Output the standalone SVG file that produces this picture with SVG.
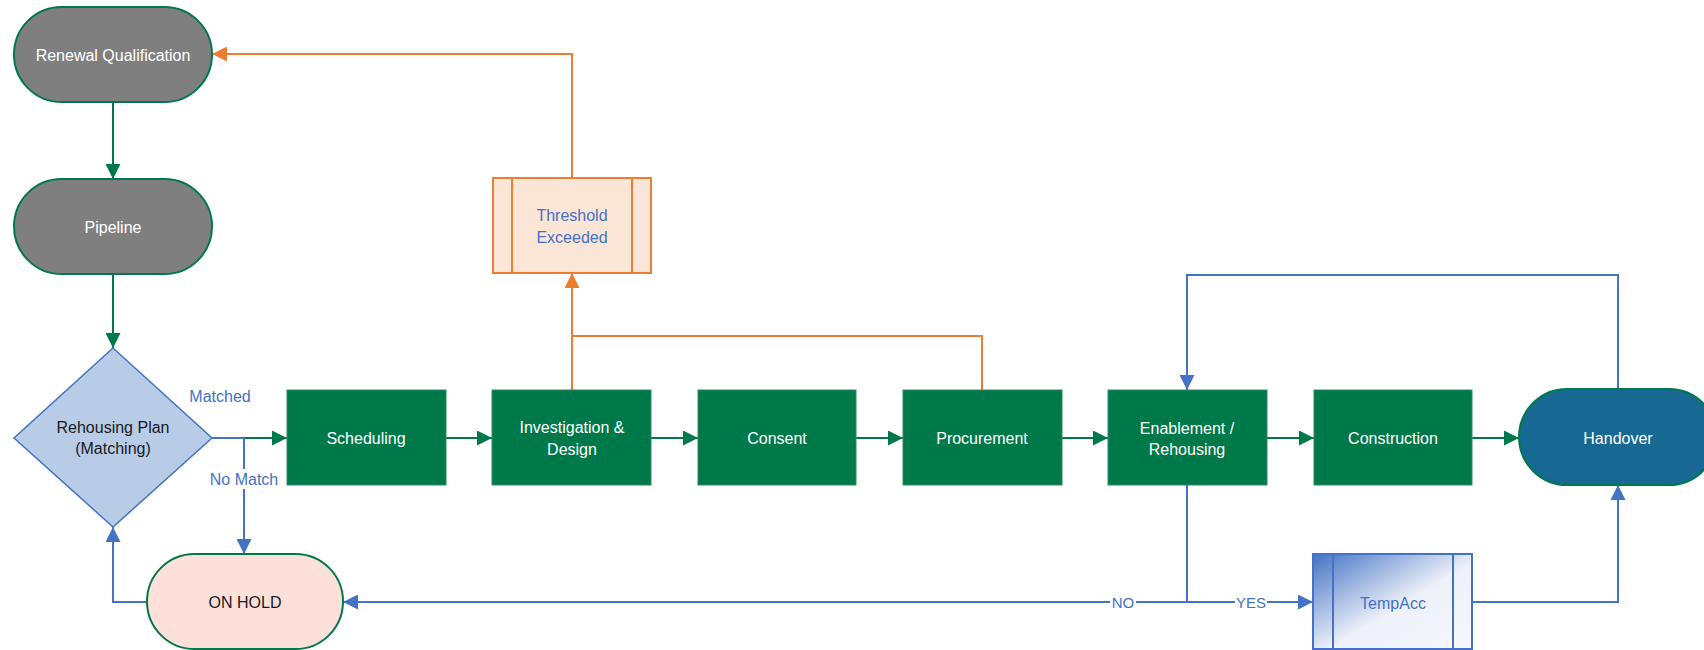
<svg xmlns="http://www.w3.org/2000/svg" width="1704" height="650" viewBox="0 0 1704 650">
<style>
text{font-family:"Liberation Sans",Arial,sans-serif;font-size:16px;text-anchor:middle;dominant-baseline:central}
.w{fill:#FFFFFF}
.b{fill:#4472C4}
.k{fill:#1A1A1A}
.proc{fill:#00794A;stroke:#2E8B63;stroke-width:1}
.grey{fill:#7F7F7F;stroke:#00794A;stroke-width:2}
.cg{fill:none;stroke:#00794A;stroke-width:2}
.cb{fill:none;stroke:#4472C4;stroke-width:2}
.co{fill:none;stroke:#ED7D31;stroke-width:2}
.lbl{font-size:15px}
</style>
<defs>
<marker id="ag" markerUnits="userSpaceOnUse" viewBox="0 0 15 15" refX="15" refY="7.5" markerWidth="15" markerHeight="15" orient="auto"><path d="M0,0 L15,7.5 L0,15 z" fill="#00794A"/></marker>
<marker id="ab" markerUnits="userSpaceOnUse" viewBox="0 0 15 15" refX="15" refY="7.5" markerWidth="15" markerHeight="15" orient="auto"><path d="M0,0 L15,7.5 L0,15 z" fill="#4472C4"/></marker>
<marker id="ao" markerUnits="userSpaceOnUse" viewBox="0 0 15 15" refX="15" refY="7.5" markerWidth="15" markerHeight="15" orient="auto"><path d="M0,0 L15,7.5 L0,15 z" fill="#ED7D31"/></marker>
<linearGradient id="tg" x1="0" y1="0" x2="1" y2="1">
<stop offset="0" stop-color="#4472C4"/>
<stop offset="0.55" stop-color="#EEF1F9"/>
<stop offset="1" stop-color="#F7F8FC"/>
</linearGradient>
</defs>

<g id="connectors">
<path class="cg" d="M113,102 V179" marker-end="url(#ag)"/>
<path class="cg" d="M113,274 V348" marker-end="url(#ag)"/>
<path class="cb" d="M212,438 H244"/>
<path class="cg" d="M244,438 H287" marker-end="url(#ag)"/>
<path class="cg" d="M446,438 H492" marker-end="url(#ag)"/>
<path class="cg" d="M651,438 H698" marker-end="url(#ag)"/>
<path class="cg" d="M856,438 H903" marker-end="url(#ag)"/>
<path class="cg" d="M1062,438 H1108" marker-end="url(#ag)"/>
<path class="cg" d="M1267,438 H1314" marker-end="url(#ag)"/>
<path class="cg" d="M1472,438 H1519" marker-end="url(#ag)"/>
<path class="cb" d="M244,438 V554" marker-end="url(#ab)"/>
<path class="cb" d="M147,602 H113 V527" marker-end="url(#ab)"/>
<path class="cb" d="M1187,602 H343" marker-end="url(#ab)"/>
<path class="cb" d="M1187,485 V602 H1313" marker-end="url(#ab)"/>
<path class="cb" d="M1472,602 H1618 V485" marker-end="url(#ab)"/>
<path class="cb" d="M1618,389 V275 H1187 V390" marker-end="url(#ab)"/>
<path class="co" d="M572,390 V273" marker-end="url(#ao)"/>
<path class="co" d="M982,390 V336 H572"/>
<path class="co" d="M572,178 V54 H212" marker-end="url(#ao)"/>
<text class="b" x="220" y="396">Matched</text>
<rect x="209" y="469" width="70" height="20" fill="#FFFFFF"/>
<text class="b" x="244" y="479">No Match</text>
<rect x="1110" y="593" width="26" height="18" fill="#FFFFFF"/>
<text class="b lbl" x="1123" y="602">NO</text>
<rect x="1235" y="593" width="32" height="18" fill="#FFFFFF"/>
<text class="b lbl" x="1251" y="602">YES</text>
</g>

<g id="renewal">
<rect class="grey" x="14" y="7" width="198" height="95" rx="47.5"/>
<text class="w" x="113" y="55">Renewal Qualification</text>
</g>
<g id="pipeline">
<rect class="grey" x="14" y="179" width="198" height="95" rx="47.5"/>
<text class="w" x="113" y="227">Pipeline</text>
</g>
<g id="rehousing-plan">
<polygon points="113,348 212,438 113,527 14,438" fill="#B8CCE8" stroke="#4472C4" stroke-width="1.5"/>
<text class="k" x="113" y="427">Rehousing Plan</text>
<text class="k" x="113" y="448">(Matching)</text>
</g>
<g id="on-hold">
<rect x="147" y="554" width="196" height="95" rx="47.5" fill="#FDE0DA" stroke="#00794A" stroke-width="2"/>
<text class="k" x="245" y="602">ON HOLD</text>
</g>
<g id="threshold">
<rect x="493" y="178" width="158" height="95" fill="#FBE5D6" stroke="#ED7D31" stroke-width="2"/>
<line x1="512" y1="178" x2="512" y2="273" stroke="#ED7D31" stroke-width="2"/>
<line x1="632" y1="178" x2="632" y2="273" stroke="#ED7D31" stroke-width="2"/>
<text class="b" x="572" y="215">Threshold</text>
<text class="b" x="572" y="237">Exceeded</text>
</g>
<g id="scheduling">
<rect class="proc" x="287" y="390" width="159" height="95"/>
<text class="w" x="366" y="438">Scheduling</text>
</g>
<g id="investigation">
<rect class="proc" x="492" y="390" width="159" height="95"/>
<text class="w" x="572" y="427">Investigation &amp;</text>
<text class="w" x="572" y="449">Design</text>
</g>
<g id="consent">
<rect class="proc" x="698" y="390" width="158" height="95"/>
<text class="w" x="777" y="438">Consent</text>
</g>
<g id="procurement">
<rect class="proc" x="903" y="390" width="159" height="95"/>
<text class="w" x="982" y="438">Procurement</text>
</g>
<g id="enablement">
<rect class="proc" x="1108" y="390" width="159" height="95"/>
<text class="w" x="1187" y="428">Enablement /</text>
<text class="w" x="1187" y="449">Rehousing</text>
</g>
<g id="construction">
<rect class="proc" x="1314" y="390" width="158" height="95"/>
<text class="w" x="1393" y="438">Construction</text>
</g>
<g id="handover">
<rect x="1519" y="389" width="198" height="96" rx="48" fill="#186894" stroke="#00794A" stroke-width="2"/>
<text class="w" x="1618" y="438">Handover</text>
</g>
<g id="tempacc">
<rect x="1313" y="554" width="159" height="95" fill="url(#tg)" stroke="#4472C4" stroke-width="2"/>
<line x1="1333" y1="554" x2="1333" y2="649" stroke="#4472C4" stroke-width="2"/>
<line x1="1453" y1="554" x2="1453" y2="649" stroke="#4472C4" stroke-width="2"/>
<text class="b" x="1393" y="603">TempAcc</text>
</g>
</svg>
